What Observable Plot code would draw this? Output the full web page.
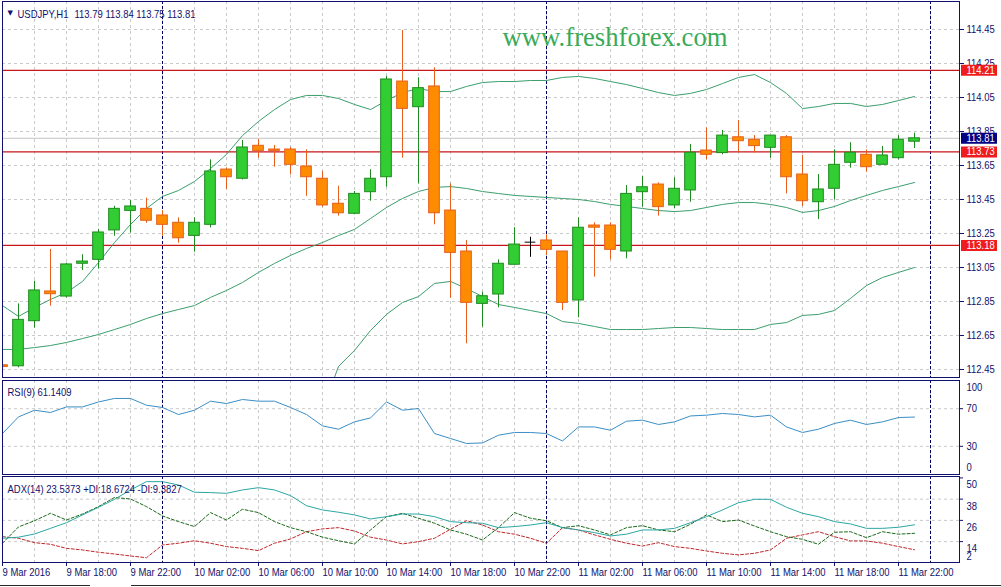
<!DOCTYPE html>
<html><head><meta charset="utf-8">
<script src="https://cdn.jsdelivr.net/npm/d3@7"></script>
<script src="https://cdn.jsdelivr.net/npm/@observablehq/plot@0.6"></script>
<style>
html,body{margin:0;padding:0;background:#fff;}
#chart{position:relative;width:1001px;height:587px;overflow:hidden;background:#fff;}
#chart svg{position:absolute;left:0;display:block;overflow:visible;}
.strip{position:absolute;height:1px;background:#2a2a2a;top:585px;}
</style></head><body><div id="chart"></div>
<script>
// ---- data (USDJPY H1, 9 Mar 2016 14:00 .. 11 Mar 2016 23:00) ----
const open  = [112.475,112.469,112.734,112.909,112.879,113.072,113.095,113.268,113.383,113.395,113.356,113.313,113.236,113.301,113.626,113.572,113.766,113.744,113.744,113.644,113.572,113.425,113.366,113.493,113.581,114.144,113.993,114.115,113.385,113.144,112.836,112.891,113.066,113.199,113.209,113.144,112.856,113.297,113.297,113.144,113.493,113.538,113.415,113.503,113.738,113.723,113.816,113.801,113.754,113.816,113.597,113.434,113.513,113.666,113.713,113.654,113.693,113.790];
const high  = [112.540,112.836,112.969,113.156,113.075,113.125,113.274,113.410,113.444,113.458,113.385,113.342,113.342,113.683,113.636,113.797,113.803,113.768,113.756,113.742,113.615,113.528,113.497,113.625,114.174,114.444,114.166,114.225,113.542,113.209,112.905,113.095,113.284,113.228,113.242,113.144,113.342,113.313,113.313,113.532,113.585,113.548,113.578,113.774,113.872,113.856,113.915,113.826,113.826,113.826,113.709,113.597,113.742,113.784,113.742,113.762,113.826,113.840];
const low   = [112.460,112.460,112.693,112.822,112.870,113.032,113.040,113.234,113.252,113.310,113.234,113.193,113.140,113.283,113.509,113.565,113.693,113.640,113.595,113.469,113.405,113.352,113.360,113.440,113.522,113.693,113.542,113.301,112.869,112.601,112.699,112.813,113.066,113.110,113.121,112.797,112.754,112.993,113.095,113.101,113.405,113.352,113.395,113.434,113.683,113.713,113.728,113.723,113.693,113.483,113.409,113.332,113.448,113.634,113.610,113.654,113.683,113.750];
const close = [112.465,112.742,112.915,112.893,113.068,113.085,113.256,113.395,113.409,113.325,113.301,113.222,113.313,113.615,113.581,113.756,113.736,113.736,113.654,113.581,113.415,113.369,113.483,113.572,114.156,113.983,114.105,113.369,113.136,112.842,112.881,113.072,113.185,113.199,113.154,112.842,113.284,113.284,113.154,113.483,113.522,113.405,113.513,113.725,113.713,113.826,113.793,113.764,113.826,113.581,113.440,113.509,113.654,113.725,113.640,113.709,113.801,113.810];
const bbUpper  = [112.826,112.762,112.815,112.862,112.903,112.968,113.079,113.197,113.303,113.397,113.468,113.503,113.556,113.632,113.715,113.826,113.909,113.979,114.038,114.062,114.062,114.044,114.009,113.979,114.032,114.079,114.103,114.085,114.085,114.115,114.138,114.144,114.144,114.150,114.150,114.168,114.174,114.162,114.144,114.126,114.103,114.079,114.062,114.074,114.097,114.132,114.168,114.185,114.138,114.074,113.985,113.997,114.015,114.015,113.997,114.009,114.032,114.056];
const bbMiddle = [112.568,112.568,112.579,112.591,112.609,112.632,112.656,112.685,112.715,112.750,112.779,112.803,112.826,112.874,112.915,112.962,113.021,113.074,113.121,113.162,113.197,113.238,113.274,113.338,113.403,113.456,113.497,113.521,113.526,113.515,113.497,113.485,113.474,113.468,113.462,113.456,113.450,113.438,113.421,113.409,113.397,113.385,113.379,113.385,113.403,113.421,113.432,113.432,113.421,113.403,113.374,113.385,113.409,113.444,113.474,113.503,113.526,113.550];
const bbLower  = [null,null,null,null,null,null,null,null,null,null,null,null,null,null,null,null,null,null,null,null,112.210,112.468,112.562,112.679,112.774,112.844,112.879,112.956,112.968,112.926,112.879,112.832,112.815,112.797,112.779,112.732,112.721,112.703,112.685,112.685,112.685,112.691,112.697,112.697,112.691,112.685,112.685,112.685,112.715,112.726,112.768,112.774,112.797,112.868,112.944,112.991,113.021,113.050];
const rsi = [43.6,61.3,68.4,66.0,71.9,71.9,77.2,80.9,80.9,73.7,71.3,63.8,68.4,78.0,75.5,79.8,78.0,78.0,71.3,63.8,51.7,48.2,56.0,60.2,77.2,68.4,70.2,43.6,38.3,33.0,33.6,41.8,44.7,44.7,43.6,35.7,50.6,50.6,47.1,56.7,57.8,53.2,56.0,62.3,63.1,64.9,63.8,61.3,63.1,50.6,44.7,48.2,54.3,57.8,53.2,56.0,60.6,61.1];
const adx = [15.9,16.5,18.3,21.5,24.7,29.1,33.4,37.9,43.2,47.9,47.9,46.0,41.9,41.7,41.3,43.2,44.5,43.2,40.0,34.3,31.9,30.6,29.1,26.8,28.1,29.6,29.6,28.1,25.3,24.7,24.4,21.9,22.5,23.4,24.7,21.9,20.6,19.1,17.2,18.2,20.6,20.6,21.5,24.7,28.1,31.9,36.0,37.9,37.9,33.4,30.0,28.1,25.3,24.0,21.5,21.5,22.1,23.5];
const plusDI = [13.1,22.3,25.8,30.0,26.2,29.6,33.8,38.9,38.1,33.8,28.5,25.3,22.5,30.4,26.2,32.3,30.4,25.3,21.9,19.6,16.5,14.5,12.7,20.6,28.1,30.0,27.2,24.4,20.6,18.2,14.9,21.9,30.4,27.2,25.8,21.9,23.0,20.6,17.8,21.9,23.0,20.6,19.6,23.8,29.1,25.3,26.2,22.8,19.6,16.8,15.3,12.5,19.3,19.6,16.2,19.6,18.2,18.7];
const minusDI = [16.8,15.9,13.4,12.5,10.2,9.3,8.0,7.0,5.9,4.9,12.1,13.1,14.5,13.1,11.2,10.2,8.9,13.1,15.5,19.6,21.2,21.9,20.0,16.5,14.9,12.7,14.0,15.9,21.0,25.8,23.4,19.6,18.2,15.9,13.1,21.9,20.6,17.8,15.3,13.1,11.5,13.4,11.2,10.2,8.7,7.4,6.5,7.4,9.3,15.9,17.8,19.6,16.8,14.4,14.4,13.1,11.2,9.4];
const levels = [114.21, 113.73, 113.18];
const bid = 113.81;
const priceTicks = [112.45,112.65,112.85,113.05,113.25,113.45,113.65,113.85,114.05,114.25,114.45];
const rsiGrid = [70, 30];
const adxTicks = [50, 38, 26, 14];
const adxGrid = [38, 26, 14];
const timeLabels = ["9 Mar 2016","9 Mar 18:00","9 Mar 22:00","10 Mar 02:00","10 Mar 06:00","10 Mar 10:00","10 Mar 14:00","10 Mar 18:00","10 Mar 22:00","11 Mar 02:00","11 Mar 06:00","11 Mar 10:00","11 Mar 14:00","11 Mar 18:00","11 Mar 22:00"];
const titleSymbol = "USDJPY,H1";
const titleQuote = "113.79 113.84 113.75 113.81";
const rsiTitle = "RSI(9) 61.1409";
const adxTitle = "ADX(14) 23.5373 +DI:18.6724 -DI:9.3827";
const watermark = "www.freshforex.com";

// ---- derived ----
const H = 3600e3, PX = H / 16;              // 16 px per hourly bar
const t0 = new Date(Date.UTC(2016, 2, 9, 14));
const tLast = new Date(Date.UTC(2016, 2, 12, 0));
const hours = d3.utcHour.range(t0, tLast);
const xEnd = new Date(+t0 + 59.8125 * H);
const xDomain = [t0, xEnd];
const labelTimes = d3.utcHour.range(t0, tLast, 4);
const labelMap = new Map(labelTimes.map((t, i) => [+t, timeLabels[i]]));
const gridTimes = d3.utcHour.range(t0, xEnd, 2);
const daySeps = [new Date(Date.UTC(2016,2,10)), new Date(Date.UTC(2016,2,11)), new Date(Date.UTC(2016,2,12))];

const bars = hours.map((t, i) => ({t, o: open[i], h: high[i], l: low[i], c: close[i],
  bu: bbUpper[i], bm: bbMiddle[i], bl: bbLower[i], rsi: rsi[i], adx: adx[i], pdi: plusDI[i], mdi: minusDI[i]}));
const dir = d => d.c > d.o ? "up" : d.c < d.o ? "down" : "flat";
const bodyFill = {up: "#32cd32", down: "#ff8c00", flat: "#000"};
const edge = {up: "#1f8a1f", down: "#e65f1c", flat: "#000"};

const NAVY = "#10106e";
const FONT = "'Liberation Sans', Arial, sans-serif";
const FS = 10.5;          // taller glyphs, later squeezed horizontally (Tahoma-like)
const SQUEEZE = 0.9;
const gridStyle = {stroke: "#c9c9c9", strokeDasharray: "3,3", strokeWidth: 1};
const sepStyle = {stroke: "#000060", strokeDasharray: "3,2", strokeWidth: 1};
const boxX1 = () => new Date(+xEnd + 2 * PX), boxX2 = () => new Date(+xEnd + 38 * PX);
const textX = () => new Date(+xEnd + 7 * PX);
const baseStyle = {background: "transparent", color: NAVY, fontFamily: FONT, fontSize: FS + "px", overflow: "visible"};

const root = document.getElementById("chart");
const fixed = new Map([[titleSymbol, 51], [titleQuote, 121], [watermark, 225]]);
function place(svg, top) {
  svg.style.top = top + "px";
  root.appendChild(svg);
  svg.querySelectorAll("text").forEach(t => {
    const s = t.textContent;
    if (!s || t.querySelector("tspan")) return;
    let len = fixed.get(s);
    if (len == null) { if (s === "▼") return; len = t.getComputedTextLength() * SQUEEZE; }
    t.setAttribute("textLength", len);
    t.setAttribute("lengthAdjust", "spacingAndGlyphs");
  });
}

// ---- main price panel ----
const main = Plot.plot({
  width: 1001, height: 378, marginLeft: 2, marginRight: 42, marginTop: 1, marginBottom: 1,
  style: baseStyle,
  color: {type: "identity"},
  x: {type: "utc", domain: xDomain, axis: null, label: null},
  y: {domain: [112.4029, 114.6147], label: null},
  marks: [
    Plot.ruleY(priceTicks, gridStyle),
    Plot.ruleX(gridTimes, gridStyle),
    Plot.ruleX(daySeps, sepStyle),
    Plot.ruleY([bid], {stroke: "#c4c4c4"}),
    Plot.ruleY(levels, {stroke: "#c8161a", strokeWidth: 1.2}),
    Plot.text([titleSymbol], {frameAnchor: "top-left", dx: 15, dy: 9, textAnchor: "start", fill: NAVY, fontSize: FS}),
    Plot.text([titleQuote], {frameAnchor: "top-left", dx: 72, dy: 9, textAnchor: "start", fill: NAVY, fontSize: FS}),
    Plot.text(["▼"], {frameAnchor: "top-left", dx: 5, dy: 9, textAnchor: "start", fill: NAVY, fontSize: 7, fontFamily: "DejaVu Sans"}),
    Plot.text([watermark], {frameAnchor: "top-left", dx: 500, dy: 44, textAnchor: "start", lineAnchor: "bottom", fontFamily: "'Liberation Serif', 'Times New Roman', serif", fontSize: 26.7, fill: "#38aa58"}),
    Plot.line(bars, {x: "t", y: "bu", stroke: "#3a9f6c", strokeWidth: 1, clip: true}),
    Plot.line(bars, {x: "t", y: "bm", stroke: "#3a9f6c", strokeWidth: 1, clip: true}),
    Plot.line(bars, {x: "t", y: "bl", stroke: "#3a9f6c", strokeWidth: 1, clip: true}),
    Plot.ruleX(bars, {x: "t", y1: "l", y2: "h", stroke: d => edge[dir(d)], strokeWidth: 1, clip: true}),
    Plot.rect(bars.filter(d => dir(d) !== "flat"), {x1: d => new Date(+d.t - 20 * 60e3), x2: d => new Date(+d.t + 20 * 60e3),
      y1: "o", y2: "c", fill: d => bodyFill[dir(d)], stroke: d => edge[dir(d)], strokeWidth: 1, clip: true}),
    Plot.ruleY(bars.filter(d => dir(d) === "flat"), {y: "o", x1: d => new Date(+d.t - 20 * 60e3), x2: d => new Date(+d.t + 20 * 60e3), stroke: "#000", clip: true}),
    Plot.axisY(priceTicks, {anchor: "right", tickSize: 4, tickPadding: 3, tickFormat: d => d.toFixed(2), fill: NAVY, stroke: NAVY, fontSize: FS}),
    Plot.ruleY(levels, {x1: boxX1, x2: boxX2, stroke: "#ee1c1c", strokeWidth: 11}),
    Plot.text(levels, {y: d => d, x: textX, text: d => d.toFixed(2), fill: "white", textAnchor: "start", fontSize: FS}),
    Plot.ruleY([bid], {x1: boxX1, x2: boxX2, stroke: "#000080", strokeWidth: 11}),
    Plot.text([bid], {y: d => d, x: textX, text: d => d.toFixed(2), fill: "white", textAnchor: "start", fontSize: FS}),
    Plot.frame({stroke: NAVY, strokeWidth: 1})
  ]
});
place(main, 0);

// ---- RSI panel ----
const rsiPlot = Plot.plot({
  width: 1001, height: 97, marginLeft: 2, marginRight: 42, marginTop: 2, marginBottom: 1,
  style: baseStyle,
  x: {type: "utc", domain: xDomain, axis: null, label: null},
  y: {domain: [0, 100], axis: null, label: null},
  marks: [
    Plot.ruleY(rsiGrid, gridStyle),
    Plot.ruleX(gridTimes, gridStyle),
    Plot.ruleX(daySeps, sepStyle),
    Plot.line(bars, {x: "t", y: "rsi", stroke: "#3a8ec6", strokeWidth: 1}),
    Plot.text([rsiTitle], {frameAnchor: "top-left", dx: 5, dy: 8, textAnchor: "start", fill: NAVY, fontSize: FS}),
    Plot.ruleY(rsiGrid, {x1: () => xEnd, x2: () => new Date(+xEnd + 4 * PX), stroke: NAVY}),
    Plot.text(rsiGrid, {y: d => d, frameAnchor: "right", dx: 7, textAnchor: "start", text: d => String(d), fill: NAVY, fontSize: FS}),
    Plot.text([100], {y: d => d, frameAnchor: "right", dx: 7, dy: 7, textAnchor: "start", text: d => String(d), fill: NAVY, fontSize: FS}),
    Plot.text([0], {y: d => d, frameAnchor: "right", dx: 7, dy: -7, textAnchor: "start", text: d => String(d), fill: NAVY, fontSize: FS}),
    Plot.frame({stroke: NAVY, strokeWidth: 1})
  ]
});
place(rsiPlot, 378);

// ---- ADX panel + time axis ----
const adxPlot = Plot.plot({
  width: 1001, height: 112, marginLeft: 2, marginRight: 42, marginTop: 1, marginBottom: 25,
  style: baseStyle,
  x: {type: "utc", domain: xDomain, label: null},
  y: {domain: [2.2, 50.8], axis: null, label: null},
  marks: [
    Plot.ruleY(adxGrid, gridStyle),
    Plot.ruleX(gridTimes, gridStyle),
    Plot.ruleX(daySeps, sepStyle),
    Plot.line(bars, {x: "t", y: "mdi", stroke: "#c0282a", strokeWidth: 1, strokeDasharray: "3,2"}),
    Plot.line(bars, {x: "t", y: "pdi", stroke: "#1a6a1a", strokeWidth: 1, strokeDasharray: "3,2"}),
    Plot.line(bars, {x: "t", y: "adx", stroke: "#2aa7a4", strokeWidth: 1}),
    Plot.text([adxTitle], {frameAnchor: "top-left", dx: 5, dy: 9, textAnchor: "start", fill: NAVY, fontSize: FS}),
    Plot.ruleY(adxTicks, {x1: () => xEnd, x2: () => new Date(+xEnd + 4 * PX), stroke: NAVY}),
    Plot.text(adxTicks, {y: d => d, frameAnchor: "right", dx: 7, dy: 7, textAnchor: "start", text: d => String(d), fill: NAVY, fontSize: FS}),
    Plot.text([2], {y: d => d, frameAnchor: "right", dx: 7, dy: -6, textAnchor: "start", text: d => String(d), fill: NAVY, fontSize: FS}),
    Plot.axisX(labelTimes, {anchor: "bottom", tickSize: 4, tickPadding: 2, textAnchor: "start", tickFormat: d => labelMap.get(+d), fill: NAVY, stroke: NAVY, fontSize: FS}),
    Plot.frame({stroke: NAVY, strokeWidth: 1})
  ]
});
place(adxPlot, 475);

// bottom tab strip
[[0, 90], [131, 870]].forEach(([l, w]) => {
  const d = document.createElement("div"); d.className = "strip";
  d.style.left = l + "px"; d.style.width = w + "px"; root.appendChild(d);
});
</script></body></html>
